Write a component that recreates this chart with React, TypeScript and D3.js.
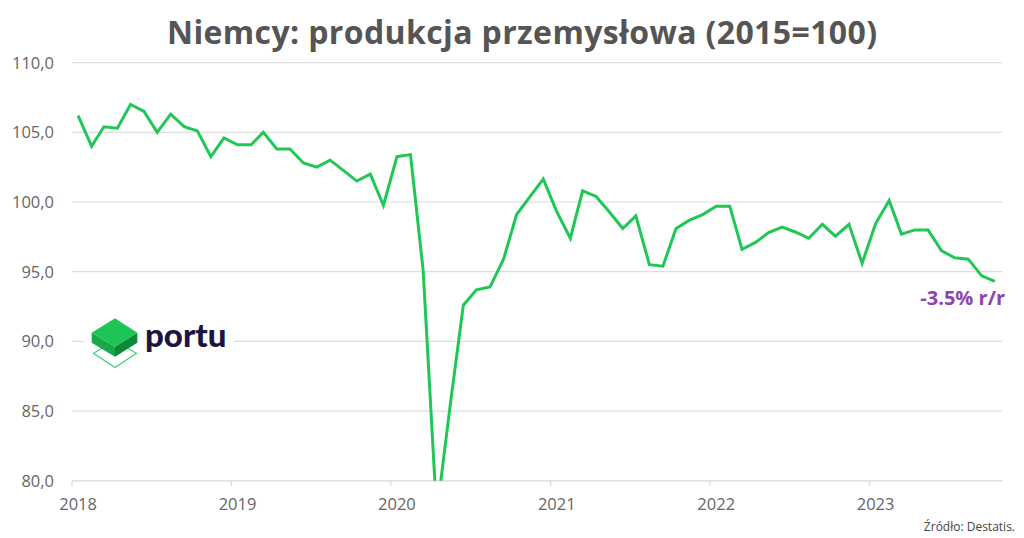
import React, { useEffect, useRef } from 'react';
import * as d3 from 'd3';

// Monthly index values, Jan 2018 .. Oct 2023 (2015=100)
const startYear = 2018;
const values2018 = [106.2, 104.0, 105.4, 105.3, 107.0, 106.5, 105.0, 106.3, 105.4, 105.1, 103.25, 104.6];
const values2019 = [104.1, 104.1, 105.0, 103.8, 103.8, 102.8, 102.5, 103.0, 102.25, 101.5, 102.0, 99.75];
const values2020 = [103.25, 103.4, 95.1, 77.6, 85.2, 92.6, 93.7, 93.9, 95.9, 99.1, 100.4, 101.65];
const values2021 = [99.3, 97.4, 100.8, 100.4, 99.3, 98.1, 99.0, 95.5, 95.4, 98.1, 98.7, 99.1];
const values2022 = [99.7, 99.7, 96.6, 97.1, 97.8, 98.2, 97.85, 97.4, 98.4, 97.55, 98.4, 95.6];
const values2023 = [98.45, 100.1, 97.7, 98.0, 98.0, 96.5, 96.0, 95.9, 94.7, 94.3];

const yTicks = [80, 85, 90, 95, 100, 105, 110];
const yearTicks = [2018, 2019, 2020, 2021, 2022, 2023];

const title = 'Niemcy: produkcja przemysłowa (2015=100)';
const annotation = '-3.5% r/r';
const source = 'Źródło: Destatis.';

const series = [values2018, values2019, values2020, values2021, values2022, values2023]
  .flat()
  .map((v, i) => ({ date: new Date(startYear + Math.floor(i / 12), i % 12, 15), value: v }));

const W = 1024;
const H = 538;

export default function App() {
  const svgRef = useRef<SVGSVGElement | null>(null);

  useEffect(() => {
    if (!svgRef.current) return;
    const svg = d3.select(svgRef.current);
    svg.selectAll('*').remove();

    const x = d3.scaleTime()
      .domain([new Date(2018, 0, 1), new Date(2023, 10, 1)])
      .range([72, 1002.3]);
    const y = d3.scaleLinear().domain([80, 110]).range([480.8, 62.6]);

    svg.append('rect').attr('width', W).attr('height', H).attr('fill', '#fff');

    // title
    svg.append('text')
      .attr('x', 522)
      .attr('y', 44)
      .attr('text-anchor', 'middle')
      .attr('font-family', '"Open Sans", sans-serif')
      .attr('font-weight', 700)
      .attr('font-size', 32)
      .attr('textLength', 710)
      .attr('lengthAdjust', 'spacing')
      .attr('fill', '#555')
      .text(title);

    // grid + y labels
    const grid = svg.append('g');
    grid.selectAll('line')
      .data(yTicks.filter(t => t > 80))
      .enter()
      .append('line')
      .attr('x1', x.range()[0])
      .attr('x2', x.range()[1])
      .attr('y1', d => y(d))
      .attr('y2', d => y(d))
      .attr('stroke', '#dedede')
      .attr('stroke-width', 1.2);

    svg.append('g').selectAll('text')
      .data(yTicks)
      .enter()
      .append('text')
      .attr('x', 54)
      .attr('y', d => y(d))
      .attr('dy', '0.36em')
      .attr('text-anchor', 'end')
      .attr('font-family', '"Open Sans", sans-serif')
      .attr('font-size', 16.5)
      .attr('fill', '#666')
      .text(d => d.toFixed(1).replace('.', ','));

    // x axis
    svg.append('line')
      .attr('x1', x.range()[0])
      .attr('x2', x.range()[1])
      .attr('y1', y(80))
      .attr('y2', y(80))
      .attr('stroke', '#d8d8d8')
      .attr('stroke-width', 1.2);

    const xt = svg.append('g');
    xt.selectAll('line')
      .data(yearTicks)
      .enter()
      .append('line')
      .attr('x1', d => x(new Date(d, 0, 1)))
      .attr('x2', d => x(new Date(d, 0, 1)))
      .attr('y1', y(80))
      .attr('y2', y(80) + 5)
      .attr('stroke', '#d8d8d8')
      .attr('stroke-width', 1.2);
    xt.selectAll('text')
      .data(yearTicks)
      .enter()
      .append('text')
      .attr('x', d => x(new Date(d, 0, 15)))
      .attr('y', 510)
      .attr('text-anchor', 'middle')
      .attr('font-family', '"Open Sans", sans-serif')
      .attr('font-size', 16.5)
      .attr('fill', '#666')
      .text(d => d);

    // logo
    const logo = svg.append('g');
    logo.append('rect').attr('x', 84).attr('y', 314).attr('width', 150).attr('height', 58).attr('fill', '#fff');
    logo.append('polygon')
      .attr('points', '93.5,353.3 115,341 136.5,353.3 115,367.5')
      .attr('fill', 'none')
      .attr('stroke', '#3fd070')
      .attr('stroke-width', 1.2);
    logo.append('polygon').attr('points', '91.7,332.7 115,346.7 115,356.7 91.7,342.7').attr('fill', '#17a848');
    logo.append('polygon').attr('points', '115,346.7 137.3,332.7 137.3,342.7 115,356.7').attr('fill', '#0d8a38');
    logo.append('polygon').attr('points', '115,318.3 137.3,332.7 115,346.7 91.7,332.7').attr('fill', '#1ec458');
    logo.append('text')
      .attr('x', 145)
      .attr('y', 347)
      .attr('font-family', 'Lato, sans-serif')
      .attr('font-weight', 900)
      .attr('font-size', 33)
      .attr('fill', '#1d1540')
      .text('portu');

    // line
    svg.append('clipPath').attr('id', 'plotclip')
      .append('rect').attr('x', 60).attr('y', 50).attr('width', 960).attr('height', y(80) - 50);

    const line = d3.line<{ date: Date; value: number }>()
      .x(d => x(d.date))
      .y(d => y(d.value));

    svg.append('path')
      .datum(series)
      .attr('clip-path', 'url(#plotclip)')
      .attr('d', line)
      .attr('fill', 'none')
      .attr('stroke', '#1fc755')
      .attr('stroke-width', 3)
      .attr('stroke-linejoin', 'miter');

    // annotation
    svg.append('text')
      .attr('x', 1005)
      .attr('y', 305)
      .attr('text-anchor', 'end')
      .attr('font-family', '"Open Sans", sans-serif')
      .attr('font-weight', 700)
      .attr('font-size', 20)
      .attr('fill', '#8e44ad')
      .text(annotation);

    // source
    svg.append('text')
      .attr('x', 1015)
      .attr('y', 531)
      .attr('text-anchor', 'end')
      .attr('font-family', '"Open Sans", sans-serif')
      .attr('font-size', 12)
      .attr('fill', '#444')
      .text(source);
  }, []);

  return (
    <svg
      ref={svgRef}
      width={W}
      height={H}
      style={{ position: 'absolute', left: 0, top: 0, display: 'block' }}
    />
  );
}
